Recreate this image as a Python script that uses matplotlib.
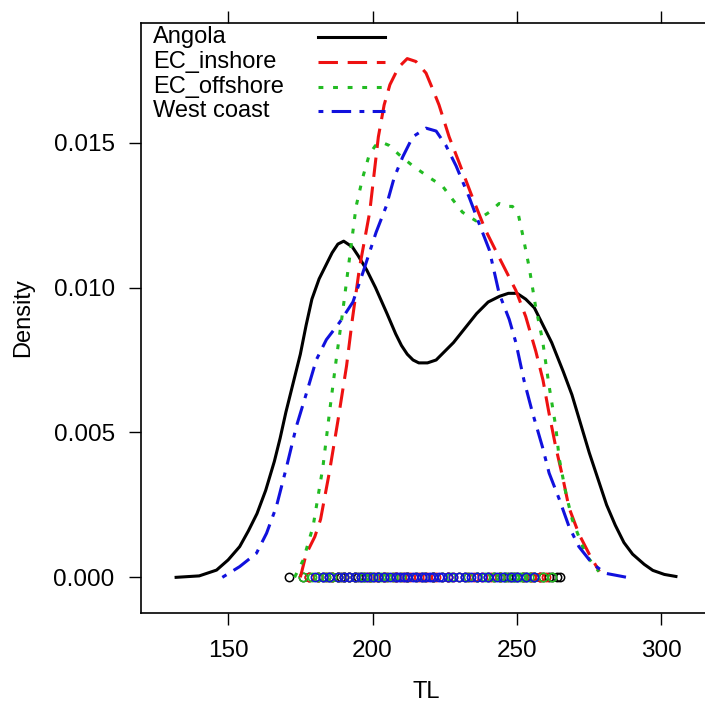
import matplotlib
matplotlib.use("Agg")
import matplotlib.pyplot as plt

plt.rcParams['font.family'] = ['Liberation Sans', 'DejaVu Sans']
plt.rcParams['lines.scale_dashes'] = False

# density curves (TL, density)
groups = ['Angola', 'EC_inshore', 'EC_offshore', 'West coast']

angola_tl = [132, 140, 146, 150, 154, 157, 160, 163, 166, 168, 170, 172.5, 175, 177, 179,
             181.5, 184, 186, 188, 190, 191.5, 193, 195, 198, 201, 205, 208, 210, 212, 214,
             216, 219, 222, 225, 228, 232, 236, 240, 244, 247, 250, 253, 256, 259, 262, 264,
             266, 269, 272, 275, 278, 281, 284, 287, 290, 294, 297, 301, 305]
angola_d = [0.0, 0.00005, 0.00025, 0.0006, 0.00106, 0.0016, 0.0022, 0.0030, 0.0040, 0.0048,
            0.0057, 0.0067, 0.0077, 0.0087, 0.0096, 0.0103, 0.0108, 0.0112, 0.0115, 0.0116,
            0.0115, 0.0114, 0.0111, 0.0106, 0.0100, 0.0091, 0.0084, 0.0080, 0.0077, 0.0075,
            0.0074, 0.0074, 0.0075, 0.0078, 0.0081, 0.0086, 0.0091, 0.0095, 0.0097, 0.0098,
            0.0098, 0.0096, 0.0093, 0.0087, 0.0081, 0.0076, 0.0071, 0.0063, 0.0053, 0.0043,
            0.0034, 0.0025, 0.0018, 0.0012, 0.0008, 0.00045, 0.00024, 0.0001, 0.00003]

inshore_tl = [175, 177, 180, 182, 185, 188, 191, 193, 195.5, 199, 202, 204, 206, 209, 212,
              215, 218.5, 221, 223, 226.5, 230, 234.6, 239, 244, 249.6, 253, 256.5, 259, 261,
              263.4, 265.7, 268, 271.4, 275, 278.5]
inshore_d = [0.0, 0.0008, 0.0014, 0.0020, 0.0036, 0.0054, 0.0073, 0.0089, 0.0107, 0.0126,
             0.0152, 0.0163, 0.0170, 0.0176, 0.0179, 0.0178, 0.0174, 0.0168, 0.0163, 0.0152,
             0.0143, 0.0131, 0.0120, 0.0110, 0.0099, 0.0090, 0.0078, 0.0068, 0.0057, 0.0045,
             0.0035, 0.0024, 0.0015, 0.0008, 0.0002]

offshore_tl = [173, 176, 179.4, 182.8, 185.1, 187.4, 189.7, 192, 194.3, 196.6, 198.9, 201,
               203.5, 205.8, 209, 213.9, 219.6, 224.2, 228, 231.1, 235.8, 240.4, 243.8,
               246.1, 248.4, 250.5, 252, 254.2, 256.5, 258.8, 261.1, 263.4, 264.6, 266.9,
               269.1, 273.7, 278.3]
offshore_d = [0.0, 0.0006, 0.00175, 0.0038, 0.0057, 0.0075, 0.0092, 0.0110, 0.0128, 0.0138,
              0.0146, 0.0149, 0.0150, 0.0149, 0.0146, 0.0142, 0.0138, 0.0135, 0.0130, 0.0126,
              0.0123, 0.0126, 0.0129, 0.0128, 0.0128, 0.0125, 0.0118, 0.0107, 0.0093, 0.0082,
              0.0066, 0.0052, 0.0041, 0.0029, 0.0020, 0.0008, 0.0002]

west_tl = [148, 154, 159.8, 163.3, 166.7, 170.2, 173.6, 177.1, 180.5, 184, 188.6, 193.2,
           196.6, 201.2, 204.7, 207.5, 210.4, 213.9, 218.5, 222, 225.4, 228.9, 233.5, 236.9,
           240.4, 243.8, 247.3, 249.6, 252.4, 255.3, 258.8, 261.1, 264.6, 268, 271.4, 276,
           280.6, 288]
west_d = [0.0, 0.00037, 0.00083, 0.00152, 0.00244, 0.0038, 0.0052, 0.00635, 0.0075, 0.0082,
          0.0088, 0.0095, 0.0105, 0.0119, 0.0128, 0.0138, 0.0145, 0.0152, 0.0155, 0.0154,
          0.0149, 0.0142, 0.0131, 0.0122, 0.0113, 0.0098, 0.0089, 0.0081, 0.0068, 0.0057,
          0.0045, 0.0036, 0.0027, 0.00175, 0.00106, 0.00048, 0.00014, 0.0]

# raw observations shown as rug points at density 0
angola_obs = [171, 176, 178, 181, 183, 185, 186, 188, 189, 190, 192, 194, 195, 197, 199,
              202, 204, 208, 212, 217, 221, 226, 232, 236, 240, 242, 244, 246, 247, 249,
              250, 252, 253, 255, 256, 258, 259, 261, 262, 264, 265]
inshore_obs = [178, 181, 184, 186, 188, 190, 192, 194, 196, 198, 199, 201, 202, 204, 205,
               207, 208, 210, 211, 212, 213, 215, 216, 218, 219, 221, 222, 224, 226, 228,
               230, 233, 235, 238, 241, 244, 248, 252, 255, 258, 260]
offshore_obs = [176, 179, 181, 184, 186, 188, 190, 192, 194, 196, 197, 199, 200, 202, 203,
                205, 207, 210, 212, 215, 218, 221, 224, 227, 230, 233, 236, 239, 242, 244,
                246, 248, 249, 251, 252, 254, 256, 259, 262]
west_obs = [180, 183, 185, 188, 190, 192, 194, 196, 198, 200, 202, 204, 206, 208, 209,
            211, 212, 214, 215, 217, 218, 220, 221, 223, 224, 226, 228, 230, 232, 234,
            236, 238, 240, 243, 245, 248, 250, 253, 256]

curves = [(angola_tl, angola_d), (inshore_tl, inshore_d),
          (offshore_tl, offshore_d), (west_tl, west_d)]
obs = [angola_obs, inshore_obs, offshore_obs, west_obs]
colors = ['black', '#ee1111', '#22bb22', '#1111dd']
styles = ['-', (0, (14, 7)), (0, (3.5, 7)), (0, (3.5, 6, 14, 6))]

fig = plt.figure(figsize=(7.05, 7.04), dpi=100)
ax = fig.add_axes([0.1996, 0.1297, 0.8104, 0.8381])

for (x, y), o, c, ls in zip(curves, obs, colors, styles):
    ax.plot(o, [0] * len(o), 'o', mfc='none', mec=c, ms=6, mew=1.1)
for (x, y), c, ls in zip(curves, colors, styles):
    ax.plot(x, y, color=c, linestyle=ls, lw=2.2)

ax.set_xlim(119.75, 317.5)
ax.set_ylim(-0.00122, 0.01914)
ax.set_xticks([150, 200, 250, 300])
ax.set_yticks([0.0, 0.005, 0.010, 0.015])
ax.set_yticklabels(['0.000', '0.005', '0.010', '0.015'])
ax.tick_params(direction='out', length=8.7, width=1, labelsize=17.5,
               top=True, labeltop=False)
ax.tick_params(axis='x', pad=11)
ax.tick_params(axis='y', pad=10)
for s in ax.spines.values():
    s.set_linewidth(1.2)
ax.set_xlabel('TL', fontsize=17, labelpad=14)
ax.set_ylabel('Density', fontsize=17, labelpad=14)

# key in the top-left corner
for i, (name, c, ls) in enumerate(zip(groups, colors, styles)):
    yk = 0.9758 - i * 0.0420
    ax.text(0.0215, yk, name, transform=ax.transAxes, fontsize=17, va='center')
    ax.plot([0.310, 0.4276], [yk, yk], transform=ax.transAxes, color=c,
            linestyle=ls, lw=2.2)

plt.savefig('out.png', dpi=100)
